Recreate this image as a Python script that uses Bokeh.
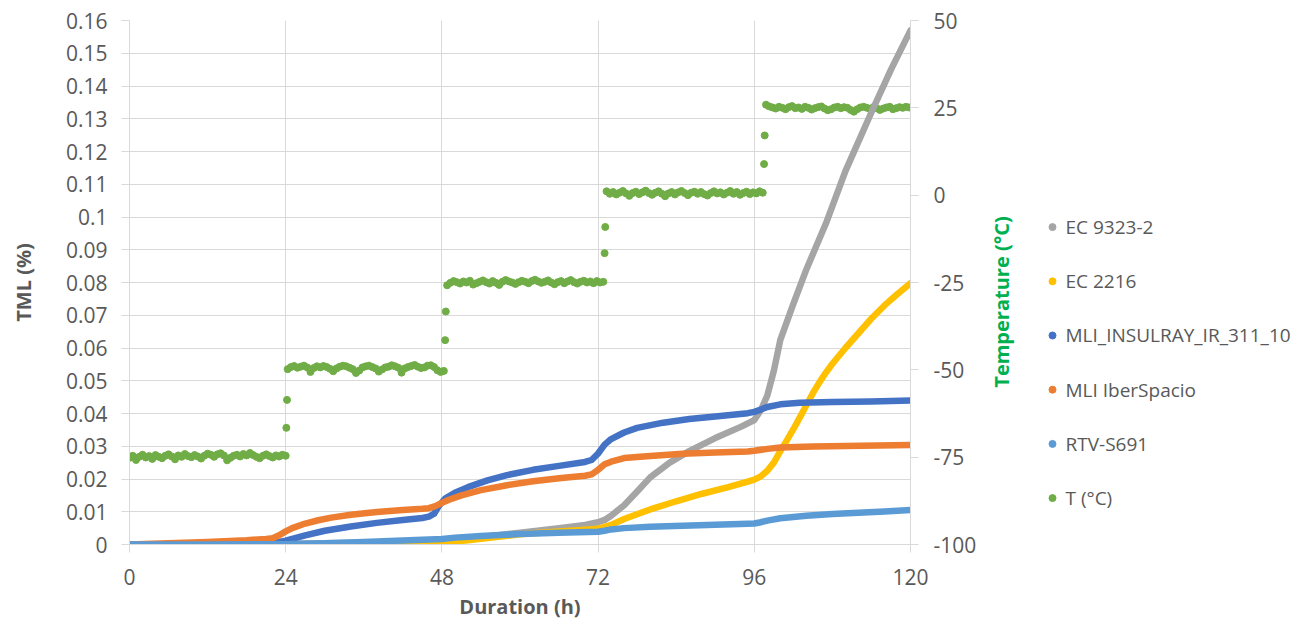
import math
from bokeh.plotting import figure
from bokeh.layouts import row
from bokeh.models import Range1d, LinearAxis, FixedTicker, CustomJSTickFormatter
from bokeh.core.properties import value
from bokeh.embed import file_html
from bokeh.resources import INLINE

# ---- TML (%) series: duration (h) and total mass loss ----
ec9323_t = [0, 12, 24, 36, 48, 54, 60, 66, 70, 72, 73, 74, 76, 78, 80, 83, 86, 90, 94, 96,
            97, 98, 99, 100, 102, 104, 107, 110, 114, 117, 120]
ec9323_v = [0, 0.0001, 0.0002, 0.0005, 0.0010, 0.0022, 0.0036, 0.0050, 0.0060, 0.0068, 0.0075,
            0.0088, 0.0120, 0.0162, 0.0205, 0.0250, 0.0285, 0.0325, 0.0360, 0.0380, 0.0410,
            0.0455, 0.0530, 0.0625, 0.0735, 0.0840, 0.0980, 0.1140, 0.1320, 0.1450, 0.1570]

ec2216_t = [0, 12, 24, 36, 44, 48, 52, 56, 60, 66, 70, 72, 74, 76, 80, 84, 88, 92, 95, 96, 97,
            98, 99, 100, 101, 102, 103, 104, 105, 106, 107, 108, 110, 112, 114, 116, 118, 120]
ec2216_v = [0, 0, 0, 0.0001, 0.0003, 0.0006, 0.0013, 0.0022, 0.0031, 0.0040, 0.0045, 0.0048,
            0.0060, 0.0078, 0.0107, 0.0132, 0.0155, 0.0175, 0.0192, 0.0198, 0.0208, 0.0225,
            0.0250, 0.0285, 0.0318, 0.0352, 0.0388, 0.0425, 0.0462, 0.0495, 0.0525, 0.0552,
            0.0600, 0.0645, 0.0690, 0.0730, 0.0765, 0.0798]

insulray_t = [0, 12, 20, 22, 24, 27, 30, 34, 38, 42, 45, 46, 46.8, 47.5, 48.5, 50, 52, 55, 58,
              62, 66, 70, 71, 72, 73, 74, 76, 78, 82, 86, 90, 95, 96, 97, 98, 100, 103, 108,
              114, 120]
insulray_v = [0, 0, 0.0002, 0.0004, 0.0012, 0.0028, 0.0042, 0.0055, 0.0066, 0.0075, 0.0081,
              0.0085, 0.0094, 0.0117, 0.0140, 0.0158, 0.0175, 0.0196, 0.0212, 0.0228, 0.0240,
              0.0252, 0.0258, 0.0278, 0.0305, 0.0322, 0.0342, 0.0356, 0.0372, 0.0383, 0.0391,
              0.0401, 0.0405, 0.0412, 0.0420, 0.0428, 0.0433, 0.0435, 0.0437, 0.0440]

iber_t = [0, 6, 12, 18, 21, 22, 23, 24, 25, 27, 29, 31, 34, 38, 42, 45, 46, 47, 48, 49, 51, 54,
          58, 62, 66, 70, 71, 72, 73, 74, 76, 80, 85, 90, 95, 96, 98, 100, 105, 110, 115, 120]
iber_v = [0, 0.0004, 0.0008, 0.0013, 0.0017, 0.0019, 0.0028, 0.0040, 0.0050, 0.0064, 0.0074,
          0.0082, 0.0091, 0.0099, 0.0105, 0.0109, 0.0111, 0.0117, 0.0127, 0.0136, 0.0150,
          0.0166, 0.0181, 0.0193, 0.0202, 0.0210, 0.0214, 0.0228, 0.0245, 0.0253, 0.0264,
          0.0270, 0.0277, 0.0281, 0.0284, 0.0286, 0.0292, 0.0296, 0.0299, 0.0301, 0.0302, 0.0304]

rtv_t = [0, 12, 24, 30, 36, 42, 48, 50, 54, 60, 66, 72, 73, 74, 76, 80, 85, 90, 95, 96, 97, 98,
         100, 104, 108, 112, 116, 120]
rtv_v = [0, 0, 0.0001, 0.0004, 0.0008, 0.0012, 0.0017, 0.0021, 0.0026, 0.0032, 0.0036, 0.0039,
         0.0042, 0.0046, 0.0050, 0.0054, 0.0057, 0.0060, 0.0063, 0.0064, 0.0068, 0.0073, 0.0080,
         0.0088, 0.0093, 0.0097, 0.0101, 0.0105]

# ---- chamber temperature (°C), logged every 0.5 h on each plateau ----
plateau_start = [0.0, 24.3, 48.8, 73.3, 97.8]
plateau_1 = [-75.2, -74.6, -75.8, -74.9, -74.3, -75.1, -74.7, -75.5, -74.4, -74.9, -75.3, -74.6,
             -74.2, -74.8, -75.6, -74.5, -74.9, -74.1, -74.7, -75.0, -74.4, -74.8, -75.4, -74.6,
             -74.0, -74.3, -74.9, -74.2, -73.9, -74.5, -75.9, -75.2, -74.6, -74.3, -74.8, -74.1,
             -74.5, -73.8, -74.4, -74.9, -75.3, -74.6, -74.2, -74.7, -75.1, -74.5, -74.8, -74.3,
             -74.6]
plateau_2 = [-49.8, -49.2, -48.9, -49.4, -49.1, -48.8, -49.3, -50.6, -49.5, -49.0, -49.3, -48.9,
             -49.2, -49.7, -50.4, -49.6, -49.1, -48.8, -49.0, -49.4, -49.8, -50.9, -50.2, -49.3,
             -49.0, -48.8, -49.2, -49.6, -50.5, -49.9, -49.3, -49.1, -48.7, -49.0, -49.4, -50.8,
             -49.6, -49.2, -48.9, -48.6, -49.1, -49.5, -49.3, -48.8, -48.7, -49.2, -50.1, -50.6,
             -50.3]
plateau_3 = [-25.8, -25.1, -24.6, -24.9, -25.3, -24.7, -25.0, -24.5, -25.6, -25.2, -24.8, -24.4,
             -24.9, -25.3, -24.6, -25.1, -25.7, -24.8, -24.3, -24.7, -25.0, -25.4, -24.9, -24.5,
             -24.8, -25.2, -24.6, -24.2, -24.7, -25.1, -24.8, -24.4, -25.0, -25.5, -24.9, -24.6,
             -25.2, -24.7, -24.3, -24.9, -25.3, -24.8, -24.5, -25.0, -24.7, -25.2, -24.6, -25.0,
             -24.8]
plateau_4 = [1.1, 0.4, 0.9, 0.2, 0.7, 1.2, 0.5, -0.2, 0.6, 1.0, 0.3, 0.8, 1.3, 0.6, 0.1, 0.7,
             1.1, 0.4, -0.3, 0.5, 0.9, 0.2, 0.8, 1.2, 0.6, 0.0, 0.7, 1.0, 0.4, 0.9, 0.3, -0.1,
             0.6, 1.1, 0.5, 0.8, 0.2, 0.7, 1.2, 0.4, 0.9, 0.1, 0.6, 1.0, 0.3, 0.8, 0.5, 1.1, 0.7]
plateau_5 = [25.9, 25.4, 25.1, 24.8, 25.3, 25.0, 24.6, 25.2, 25.5, 24.9, 25.1, 24.7, 25.3, 25.0,
             24.5, 24.9, 25.2, 25.4, 24.8, 24.3, 24.6, 25.1, 25.3, 24.9, 25.2, 25.0, 24.4, 23.9,
             24.6, 25.1, 25.3, 25.0, 24.7, 25.2, 24.9, 24.4, 24.8, 25.1, 25.3, 24.6, 24.9, 25.2,
             25.0, 25.3, 25.1]
# readings taken while the chamber was ramping between plateaus
ramp_t = [24.1, 24.2, 48.5, 48.6, 73.0, 73.1, 97.5, 97.6]
ramp_v = [-66.6, -58.6, -41.5, -33.3, -16.6, -9.1, 8.9, 17.1]

tml_ticks = [0, 0.01, 0.02, 0.03, 0.04, 0.05, 0.06, 0.07, 0.08, 0.09, 0.1, 0.11, 0.12, 0.13,
             0.14, 0.15, 0.16]
temp_ticks = [-100, -75, -50, -25, 0, 25, 50]
hour_ticks = [0, 24, 48, 72, 96, 120]

legend_labels = ["EC 9323-2", "EC 2216", "MLI_INSULRAY_IR_311_10", "MLI IberSpacio",
                 "RTV-S691", "T (°C)"]
legend_colors = ["#a5a5a5", "#ffc000", "#4472c4", "#ed7d31", "#5b9bd5", "#70ad47"]

FONT = "Open Sans"
TXT = "#595959"
GRID = "#d9d9d9"
PLOT_W, TOTAL_W, TOTAL_H = 982, 1301, 622
SIDE_W = TOTAL_W - PLOT_W
FRAME_TOP, FRAME_BOTTOM = 20, 545

# assemble the temperature record
temp_t, temp_v = [], []
for start, vals in zip(plateau_start, [plateau_1, plateau_2, plateau_3, plateau_4, plateau_5]):
    temp_t += [start + 0.5 * i for i in range(len(vals))]
    temp_v += vals
temp_t += ramp_t
temp_v += ramp_v

p = figure(width=PLOT_W, height=TOTAL_H, x_range=Range1d(0, 120), y_range=Range1d(0, 0.16),
           output_backend="svg", toolbar_location=None,
           min_border_left=129, min_border_right=PLOT_W - 910, min_border_top=FRAME_TOP,
           min_border_bottom=TOTAL_H - FRAME_BOTTOM)
p.extra_y_ranges = {"temp": Range1d(-100, 50)}
p.outline_line_color = None
p.background_fill_color = "white"
p.border_fill_color = "white"

# axes
xa = p.xaxis[0]
xa.ticker = FixedTicker(ticks=hour_ticks)
xa.axis_label = "Duration (h)"
ya = p.yaxis[0]
ya.ticker = FixedTicker(ticks=tml_ticks)
ya.formatter = CustomJSTickFormatter(code="return (Math.round(tick * 100) / 100).toString();")
ya.axis_label = "TML (%)"
ra = LinearAxis(y_range_name="temp", ticker=FixedTicker(ticks=temp_ticks),
                formatter=CustomJSTickFormatter(code="return tick.toString();"))
p.add_layout(ra, "right")

for ax in (xa, ya, ra):
    ax.axis_line_color = GRID
    ax.major_tick_line_color = GRID
    ax.major_tick_out = 8
    ax.major_tick_in = 0
    ax.minor_tick_line_color = None
    ax.major_label_text_font = FONT
    ax.major_label_text_font_size = "21px"
    ax.major_label_text_color = TXT
    ax.axis_label_text_font = FONT
    ax.axis_label_text_font_size = "20px"
    ax.axis_label_text_font_style = "bold"
    ax.axis_label_text_color = TXT
xa.major_label_standoff = 16
xa.axis_label_standoff = 5
ya.major_label_standoff = 14
ya.axis_label_standoff = 26
ra.major_label_standoff = 15

p.xgrid.ticker = FixedTicker(ticks=hour_ticks)
p.xgrid.grid_line_color = GRID
p.ygrid.grid_line_color = GRID

# temperature dots (secondary axis), drawn beneath the TML curves
p.scatter(temp_t, temp_v, y_range_name="temp", size=7, color=legend_colors[5])

series = [(ec9323_t, ec9323_v), (ec2216_t, ec2216_v), (insulray_t, insulray_v),
          (iber_t, iber_v), (rtv_t, rtv_v)]
for (t, v), col in zip(series, legend_colors):
    p.line(t, v, line_width=6.5, color=col, line_cap="round", line_join="round")

# side panel: secondary-axis title and legend; its frame lines up with the chart's,
# and its ranges are set so that one data unit is one pixel (y up)
lg = figure(width=SIDE_W, height=TOTAL_H, x_range=Range1d(0, SIDE_W),
            y_range=Range1d(TOTAL_H - FRAME_BOTTOM, TOTAL_H - FRAME_TOP),
            output_backend="svg", toolbar_location=None,
            min_border_left=0, min_border_right=0, min_border_top=FRAME_TOP,
            min_border_bottom=TOTAL_H - FRAME_BOTTOM, outline_line_color=None, title=None,
            x_axis_location=None, y_axis_location=None)
lg.grid.visible = False
lg.background_fill_color = "white"
lg.border_fill_color = "white"

lg.text([1001 - PLOT_W], [TOTAL_H - 302], text=["Temperature (°C)"], angle=math.pi / 2,
        text_font=value(FONT), text_font_size="20px", text_font_style="bold",
        text_color="#00b050", text_align="center", text_baseline="middle")

row_y = [TOTAL_H - (227 + 54.3 * i) for i in range(len(legend_labels))]
lg.scatter([1052 - PLOT_W] * len(legend_labels), row_y, size=7, color=legend_colors)
lg.text([1065 - PLOT_W] * len(legend_labels), row_y, text=legend_labels,
        text_font=value(FONT), text_font_size="19px", text_color=TXT,
        text_baseline="middle", text_align="left")

open("out.html", "w").write(file_html(row(p, lg, spacing=0), INLINE))
